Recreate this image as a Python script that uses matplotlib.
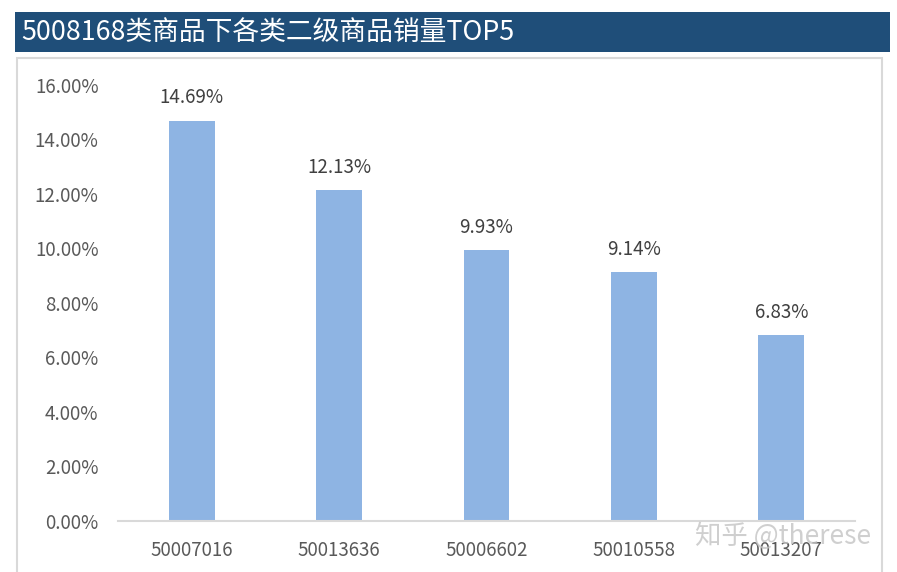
import matplotlib.pyplot as plt
from matplotlib.patches import Rectangle
from matplotlib.ticker import FuncFormatter

categories = ['50007016', '50013636', '50006602', '50010558', '50013207']
shares = [14.69, 12.13, 9.93, 9.14, 6.83]
title = '5008168类商品下各类二级商品销量TOP5'

plt.rcParams['font.family'] = ['Noto Sans CJK SC', 'DejaVu Sans']

fig = plt.figure(figsize=(8.97, 5.72), dpi=100)

# title bar and chart frame
fig.patches.append(Rectangle((0.0167, 0.909), 0.9755, 0.07, transform=fig.transFigure,
                             facecolor='#1F4E79', edgecolor='none', zorder=-1))
fig.patches.append(Rectangle((0.019, -0.02), 0.964, 0.918, transform=fig.transFigure,
                             facecolor='none', edgecolor='#D9D9D9', linewidth=1.5, zorder=-1))
fig.text(0.024, 0.944, title, color='white', fontsize=19.3, va='center', ha='left')

ax = fig.add_axes([0.1316, 0.0892, 0.8216, 0.7622])
ax.patch.set_alpha(0)
x = range(len(categories))
ax.bar(x, shares, width=0.31, color='#8EB4E3', zorder=2)
for xi, v in zip(x, shares):
    ax.text(xi, v + 0.45, f'{v:.2f}%', ha='center', va='bottom', fontsize=13.5, color='#404040')

ax.set_xlim(-0.5, len(categories) - 0.5)
ax.set_ylim(0, 16)
ax.set_yticks(range(0, 17, 2))
ax.yaxis.set_major_formatter(FuncFormatter(lambda v, p: f'{v:.2f}%'))
ax.set_xticks(list(x))
ax.set_xticklabels(categories)
ax.tick_params(axis='both', length=0, labelsize=13.5, colors='#595959')
ax.tick_params(axis='x', pad=14)
ax.tick_params(axis='y', pad=14)
for s in ['top', 'right', 'left']:
    ax.spines[s].set_visible(False)
ax.spines['bottom'].set_color('#D9D9D9')
ax.spines['bottom'].set_linewidth(1.5)

fig.text(0.775, 0.063, '知乎 @therese', color='#C4C4C4', fontsize=19, ha='left', va='center',
         alpha=0.8, zorder=5)

fig.savefig('out.png', dpi=100)
